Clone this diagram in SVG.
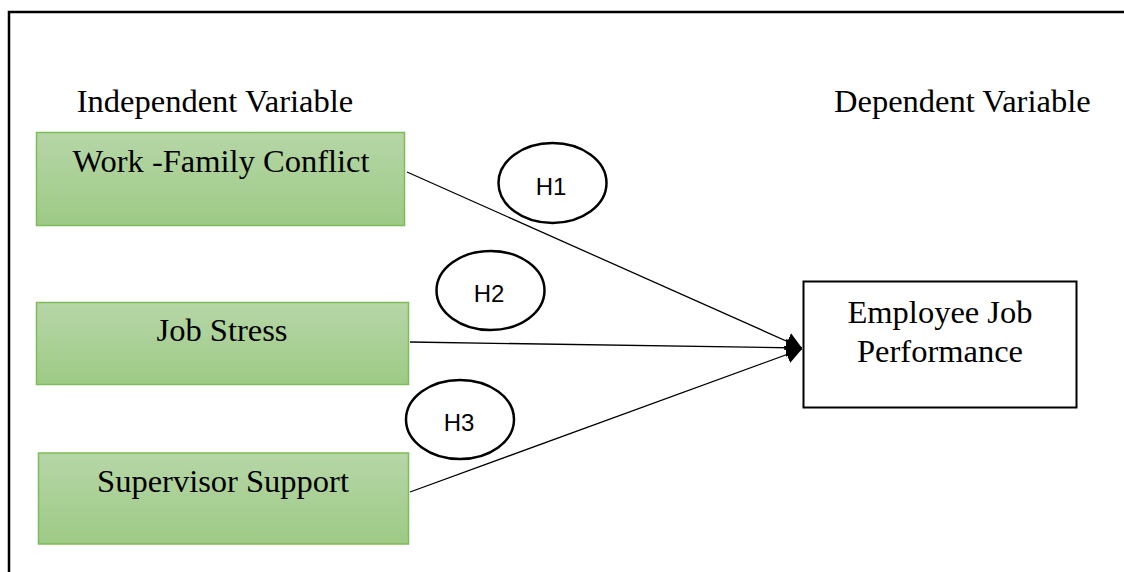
<svg xmlns="http://www.w3.org/2000/svg" width="1124" height="572" viewBox="0 0 1124 572">
<style>
.t{font-family:"Liberation Serif","Times New Roman",serif;font-size:32.5px;fill:#000}
.h{font-family:"Liberation Sans",Arial,sans-serif;font-size:24px;fill:#000;text-anchor:middle}
.g{fill:url(#gr);stroke:#7dbd58;stroke-width:1.5}
.e{fill:#fff;stroke:#000;stroke-width:2.5}
.c{stroke:#000;stroke-width:1.3;fill:none;marker-end:url(#ah)}
</style>
<defs>
<linearGradient id="gr" x1="0" y1="0" x2="0" y2="1">
<stop offset="0" stop-color="#b6d6a7"/>
<stop offset="1" stop-color="#9dca85"/>
</linearGradient>
<marker id="ah" markerUnits="userSpaceOnUse" markerWidth="17" markerHeight="18" refX="16" refY="9" orient="auto">
<path d="M0,0 L16,9 L0,18 z" fill="#000"/>
</marker>
</defs>
<rect x="0" y="0" width="1124" height="572" fill="#fff"/>
<rect id="frame" x="9" y="12" width="1130" height="600" fill="none" stroke="#000" stroke-width="2.5"/>
<text class="t" x="215" y="112" text-anchor="middle">Independent Variable</text>
<text class="t" x="834" y="112">Dependent Variable</text>
<g id="connectors">
<line class="c" x1="407" y1="172" x2="802" y2="348"/>
<line class="c" x1="410" y1="342" x2="802" y2="348"/>
<line class="c" x1="410" y1="492" x2="802" y2="349"/>
</g>
<g id="wfc">
<rect class="g" x="36.5" y="132.5" width="368" height="93"/>
<text class="t" x="221" y="172" text-anchor="middle">Work -Family Conflict</text>
</g>
<g id="js">
<rect class="g" x="36.5" y="302.5" width="372" height="82"/>
<text class="t" x="222" y="341" text-anchor="middle">Job Stress</text>
</g>
<g id="ss">
<rect class="g" x="38.5" y="453" width="370" height="91"/>
<text class="t" x="223" y="492" text-anchor="middle">Supervisor Support</text>
</g>
<g id="ejp">
<rect x="803.5" y="281.5" width="273" height="126" fill="#fff" stroke="#000" stroke-width="2"/>
<text class="t" x="940" y="323" text-anchor="middle">Employee Job</text>
<text class="t" x="940" y="362" text-anchor="middle">Performance</text>
</g>
<g id="h1">
<ellipse class="e" cx="552.5" cy="183" rx="54" ry="40"/>
<text class="h" x="551" y="195">H1</text>
</g>
<g id="h2">
<ellipse class="e" cx="490.5" cy="290.5" rx="54" ry="39.5"/>
<text class="h" x="489" y="302">H2</text>
</g>
<g id="h3">
<ellipse class="e" cx="460" cy="419.5" rx="54" ry="39.5"/>
<text class="h" x="459" y="431">H3</text>
</g>
</svg>
